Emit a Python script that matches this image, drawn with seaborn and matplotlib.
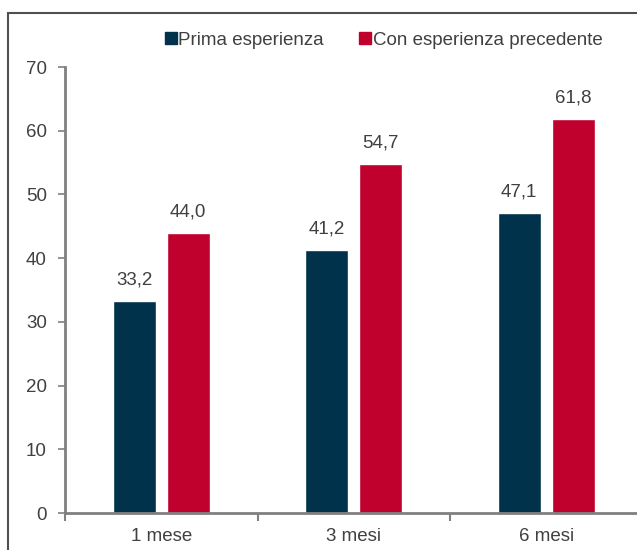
import seaborn as sns
import pandas as pd
import matplotlib.pyplot as plt
from matplotlib.patches import Rectangle
from matplotlib.lines import Line2D

categories = ['1 mese', '3 mesi', '6 mesi']
series_names = ['Prima esperienza', 'Con esperienza precedente']
prima = [33.2, 41.2, 47.1]
con_esp = [44.0, 54.7, 61.8]
colors = ['#00324B', '#C0002D']

df = pd.DataFrame({
    'periodo': categories * 2,
    'valore': prima + con_esp,
    'serie': [series_names[0]] * 3 + [series_names[1]] * 3,
})

sns.set_style('white')
plt.rcParams['font.family'] = ['Liberation Sans', 'DejaVu Sans']

fig = plt.figure(figsize=(6.37, 5.5), dpi=100)
W, H = 637, 550
ax = fig.add_axes([65 / W, 37 / H, 577.5 / W, 446 / H])

sns.barplot(data=df, x='periodo', y='valore', hue='serie', palette=colors,
            width=0.561, gap=0.2, ax=ax, legend=False, saturation=1)

# value labels
for cont in ax.containers:
    for bar in cont:
        h = bar.get_height()
        ax.annotate(f'{h:.1f}'.replace('.', ','), (bar.get_x() + bar.get_width() / 2, h),
                    xytext=(0, 9), textcoords='offset points', ha='center', va='bottom',
                    fontsize=13.5, color='#404040')

grey = '#808080'
ax.set_xlim(-0.5, 2.5)
ax.set_ylim(0, 70)
ax.set_yticks(range(0, 71, 10))
ax.set_xlabel('')
ax.set_ylabel('')
for s in ['top', 'right']:
    ax.spines[s].set_visible(False)
for s in ['left', 'bottom']:
    ax.spines[s].set_color(grey)
    ax.spines[s].set_linewidth(2)
ax.tick_params(axis='y', which='major', left=True, length=5, width=1.2, color=grey,
               labelsize=13.5, labelcolor='#404040', pad=8)
ax.tick_params(axis='x', which='major', bottom=False, labelsize=13.5, labelcolor='#404040', pad=7)
ax.set_xticks([-0.5, 0.5, 1.5, 2.5], minor=True)
ax.tick_params(axis='x', which='minor', bottom=True, length=6, width=1.5, color=grey)

handles = [Line2D([], [], marker='s', linestyle='', markersize=8, color=c) for c in colors]
fig.legend(handles, series_names, loc='center', bbox_to_anchor=(381 / W, 1 - 40 / H),
           ncol=2, frameon=False, fontsize=13.5, handletextpad=-0.2, handlelength=1.2,
           columnspacing=1.6, labelcolor='#404040')

# outer frame (cropped at right and bottom)
fig.patches.append(Rectangle((8 / W, -0.1), 1.2, 1 - 13 / H + 0.1, transform=fig.transFigure,
                             fill=False, edgecolor='#505050', linewidth=1.5))

fig.savefig('out.png', dpi=100)
